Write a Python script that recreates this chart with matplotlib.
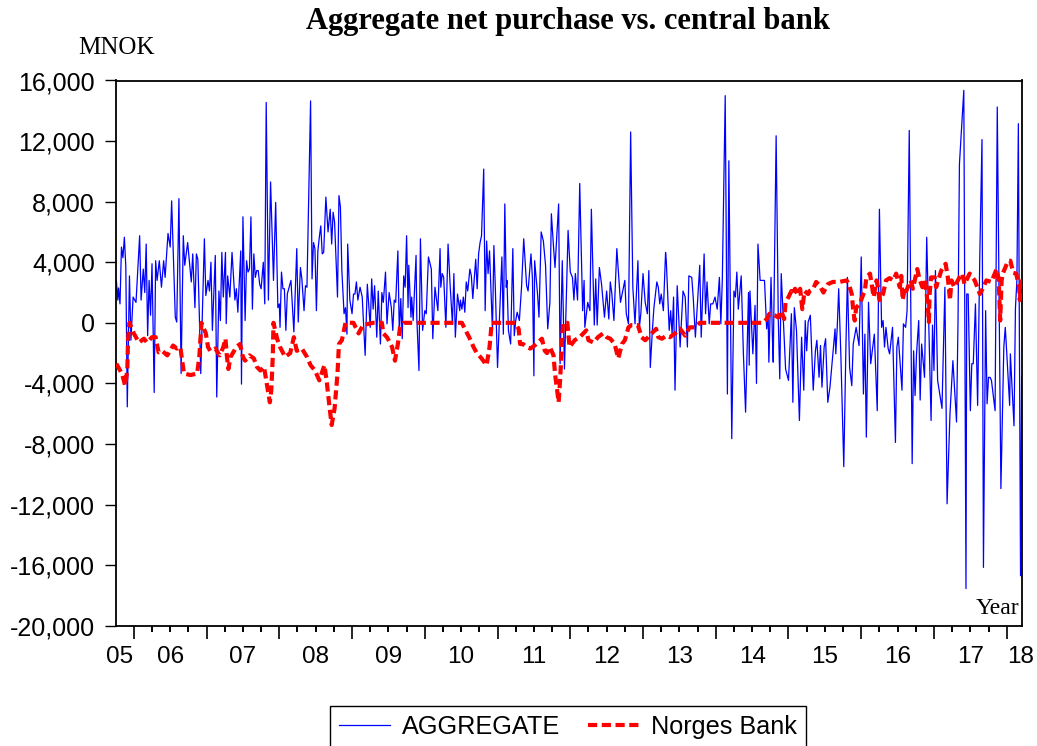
import numpy as np
import matplotlib
matplotlib.use('Agg')
import matplotlib.pyplot as plt
from matplotlib.ticker import FuncFormatter, MultipleLocator, FixedLocator

# --- data (decimal year, MNOK) ---
agg_dates = [
    2005.76, 2005.78, 2005.79, 2005.81, 2005.83, 2005.85, 2005.87, 2005.89, 2005.91, 2005.94,
    2005.96, 2005.99, 2006.03, 2006.08, 2006.10, 2006.13, 2006.15, 2006.17, 2006.19, 2006.21,
    2006.23, 2006.25, 2006.28, 2006.30, 2006.32, 2006.35, 2006.38, 2006.41, 2006.43, 2006.47,
    2006.50, 2006.52, 2006.57, 2006.59, 2006.62, 2006.65, 2006.68, 2006.70, 2006.74, 2006.79,
    2006.81, 2006.84, 2006.86, 2006.88, 2006.90, 2006.92, 2006.97, 2006.99, 2007.02, 2007.04,
    2007.06, 2007.08, 2007.12, 2007.14, 2007.17, 2007.19, 2007.21, 2007.23, 2007.26, 2007.27,
    2007.29, 2007.32, 2007.35, 2007.39, 2007.41, 2007.43, 2007.47, 2007.48, 2007.50, 2007.53,
    2007.55, 2007.57, 2007.59, 2007.61, 2007.63, 2007.65, 2007.67, 2007.69, 2007.71, 2007.73,
    2007.75, 2007.78, 2007.80, 2007.82, 2007.85, 2007.88, 2007.92, 2007.95, 2007.98, 2008.00,
    2008.01, 2008.03, 2008.05, 2008.07, 2008.09, 2008.11, 2008.16, 2008.20, 2008.24, 2008.26,
    2008.29, 2008.31, 2008.34, 2008.36, 2008.38, 2008.43, 2008.45, 2008.47, 2008.49, 2008.51,
    2008.53, 2008.55, 2008.57, 2008.59, 2008.61, 2008.64, 2008.67, 2008.70, 2008.72, 2008.74,
    2008.76, 2008.80, 2008.82, 2008.84, 2008.86, 2008.89, 2008.91, 2008.93, 2008.94, 2008.97,
    2009.00, 2009.02, 2009.04, 2009.06, 2009.08, 2009.11, 2009.14, 2009.18, 2009.21, 2009.25,
    2009.27, 2009.29, 2009.31, 2009.34, 2009.36, 2009.39, 2009.41, 2009.43, 2009.46, 2009.48,
    2009.51, 2009.54, 2009.56, 2009.58, 2009.60, 2009.63, 2009.65, 2009.67, 2009.69, 2009.71,
    2009.73, 2009.75, 2009.77, 2009.78, 2009.81, 2009.82, 2009.84, 2009.88, 2009.89, 2009.92,
    2009.94, 2009.97, 2010.00, 2010.02, 2010.05, 2010.09, 2010.11, 2010.14, 2010.18, 2010.21,
    2010.22, 2010.24, 2010.26, 2010.29, 2010.32, 2010.35, 2010.38, 2010.40, 2010.42, 2010.45,
    2010.48, 2010.49, 2010.51, 2010.53, 2010.55, 2010.57, 2010.59, 2010.62, 2010.64, 2010.66,
    2010.70, 2010.72, 2010.74, 2010.76, 2010.78, 2010.81, 2010.83, 2010.85, 2010.87, 2010.89,
    2010.93, 2010.95, 2010.97, 2011.00, 2011.06, 2011.08, 2011.10, 2011.12, 2011.13, 2011.15,
    2011.18, 2011.21, 2011.23, 2011.25, 2011.27, 2011.30, 2011.33, 2011.36, 2011.40, 2011.42,
    2011.46, 2011.48, 2011.50, 2011.51, 2011.55, 2011.57, 2011.60, 2011.63, 2011.66, 2011.69,
    2011.72, 2011.74, 2011.77, 2011.79, 2011.84, 2011.86, 2011.89, 2011.92, 2011.97, 2012.00,
    2012.03, 2012.05, 2012.07, 2012.10, 2012.13, 2012.17, 2012.19, 2012.20, 2012.24, 2012.27,
    2012.29, 2012.33, 2012.35, 2012.37, 2012.40, 2012.43, 2012.47, 2012.50, 2012.53, 2012.55,
    2012.57, 2012.60, 2012.64, 2012.69, 2012.75, 2012.77, 2012.80, 2012.83, 2012.86, 2012.88,
    2012.89, 2012.93, 2012.95, 2012.97, 2013.00, 2013.03, 2013.06, 2013.08, 2013.10, 2013.13,
    2013.15, 2013.19, 2013.21, 2013.23, 2013.25, 2013.28, 2013.31, 2013.32, 2013.36, 2013.38,
    2013.40, 2013.42, 2013.44, 2013.47, 2013.51, 2013.55, 2013.58, 2013.61, 2013.63, 2013.67,
    2013.69, 2013.72, 2013.78, 2013.80, 2013.84, 2013.86, 2013.88, 2013.91, 2013.93, 2013.96,
    2013.99, 2014.02, 2014.05, 2014.07, 2014.09, 2014.13, 2014.16, 2014.18, 2014.22, 2014.25,
    2014.27, 2014.29, 2014.31, 2014.35, 2014.38, 2014.41, 2014.45, 2014.46, 2014.47, 2014.51,
    2014.54, 2014.56, 2014.58, 2014.61, 2014.64, 2014.67, 2014.70, 2014.72, 2014.73, 2014.76,
    2014.78, 2014.79, 2014.83, 2014.86, 2014.88, 2014.90, 2014.93, 2014.96, 2015.00, 2015.04,
    2015.06, 2015.08, 2015.11, 2015.15, 2015.18, 2015.21, 2015.23, 2015.25, 2015.27, 2015.30,
    2015.34, 2015.37, 2015.39, 2015.42, 2015.44, 2015.46, 2015.49, 2015.51, 2015.54, 2015.57,
    2015.64, 2015.65, 2015.67, 2015.69, 2015.72, 2015.76, 2015.79, 2015.81, 2015.84, 2015.87,
    2015.89, 2015.93, 2015.97, 2016.00, 2016.03, 2016.05, 2016.07, 2016.10, 2016.13, 2016.18,
    2016.22, 2016.25, 2016.28, 2016.30, 2016.32, 2016.34, 2016.37, 2016.39, 2016.43, 2016.47,
    2016.49, 2016.51, 2016.56, 2016.58, 2016.61, 2016.63, 2016.66, 2016.70, 2016.72, 2016.74,
    2016.76, 2016.79, 2016.81, 2016.83, 2016.87, 2016.90, 2016.96, 2016.98, 2017.00, 2017.02,
    2017.05, 2017.11, 2017.15, 2017.18, 2017.22, 2017.26, 2017.31, 2017.33, 2017.35, 2017.41,
    2017.44, 2017.45, 2017.47, 2017.50, 2017.52, 2017.54, 2017.57, 2017.60, 2017.63, 2017.66,
    2017.68, 2017.71, 2017.73, 2017.75, 2017.77, 2017.79, 2017.84, 2017.87, 2017.92, 2017.96,
    2017.98, 2018.00, 2018.04, 2018.05, 2018.10, 2018.12, 2018.14, 2018.16, 2018.19, 2018.205,
]
agg_values = [
    2800, 1500, 2300, 1250, 5000, 4300, 5650, 3700, -5550, 3100,
    -1150, 1700, 1350, 5750, 1500, 3550, 2000, 5200, -850, 2800,
    500, 3900, -4600, 4100, 2800, 4100, 2350, 4100, 3000, 5900,
    5000, 8050, 370, 50, 8200, -3350, 5750, 3800, 5300, 2700,
    4550, 1000, 4550, 4200, 600, -3350, 5550, 1800, 2800, 2100,
    4000, -500, 4450, -4900, 2100, 150, 4650, 1700, 4650, -50,
    3100, 1700, 4650, 1500, 2250, 700, 4750, -4050, 7000, 150,
    4100, 3350, 3550, 7000, 900, 4550, 3000, 3450, 3450, 2550,
    2250, 4000, 1250, 14550, 1500, 9300, 2800, 7950, 1000, 1250,
    -300, 3350, 2250, 2250, -500, 1900, 2800, -600, 4900, 50,
    3650, 2900, 800, 2450, 2350, 14650, 2900, 5300, 4900, 800,
    4750, 5650, 6400, 4550, 4650, 8300, 6000, 7500, 5200, 7300,
    6650, 1700, 8400, 7650, 3450, 600, 1000, -750, 5200, 1500,
    600, 1900, 1900, 2700, 1500, 2350, 1700, -2150, 2550, -300,
    2900, 900, 2450, -950, 2100, -1400, 2000, 1350, 3350, -70,
    2000, 1000, -500, 1500, 1350, 4750, -750, 1600, -1050, 3100,
    2350, 5750, 1000, 3800, 370, 1700, 150, 4450, 370, -3150,
    5550, -500, 800, 600, 4350, 3550, -1050, 2350, 800, 4900,
    2350, 3250, 3000, -300, 5200, 2350, -70, 3250, -950, 1900,
    800, 1500, 900, 1700, 700, 2700, 2100, 3550, 3100, 1600,
    4200, 2250, 4550, 5300, 5750, 10150, 800, 5400, 3250, 4750,
    -500, 5100, 2250, -2950, 4350, -750, 7850, 2350, 2800, -500,
    -1400, 4900, -850, 150, 700, 150, 2350, 5550, 2450, 2100,
    4550, 2900, -3500, 4100, 1900, 370, 6000, 5400, 3800, -400,
    1350, 7200, 5000, 3650, 7850, -2700, 4100, -3050, 6100, 3350,
    3000, 1500, 3250, 1500, 9200, 800, 2800, -300, 1350, 800,
    7500, -150, 2900, -150, 3650, 2550, 370, 2100, 250, 2700,
    2000, 150, 4900, 1350, 2800, 600, -70, 12600, 2350, 800,
    -70, 4100, -300, 600, 3250, 1350, 600, 3450, -2950, -400,
    1000, 2700, 2350, 1250, 1900, 800, 4650, 4100, -500, 800,
    -750, 1700, -4450, 2450, -1600, 2100, 1700, -1600, 3100, 3000,
    1700, -950, 3800, -950, 4550, 600, 2700, -70, 1250, 1250,
    1700, 900, 3000, -70, 2800, 15000, -4700, 10700, -7650, 2100,
    1700, 3350, 900, 3100, -2050, -5900, 2000, -2800, 2100, -2050,
    1150, -4000, 5200, 2800, 2800, 2800, -400, 600, -2600, 3000,
    -1150, -2600, 12350, 150, -3700, 3250, 50, -3050, -3800, 600,
    -5250, 1000, -500, -6450, -950, -4450, 150, -1850, 50, 500,
    -4450, -1850, -1150, -3600, -1500, -4250, -1600, -1050, -5250, -4250,
    -400, -2050, -300, 2250, -2150, -9500, -1400, 3000, -2950, -4150,
    -1400, -300, -1500, 4350, -4700, -750, -7550, 1350, -2700, -750,
    -5800, 7500, -300, 150, -1600, -300, -1700, -2050, -300, -7900,
    -1600, -950, -4450, -70, -300, 800, 12700, -9300, -1850, -4800,
    -2050, 150, -5100, -1400, -3600, 5650, -6450, -150, -3150, 3450,
    -3800, -5650, 2350, -11950, -6000, -2500, -6550, -70, 10500, 15350,
    -17550, 1900, 1900, -5800, -2700, -2700, 1250, -5450, 4450, 12100,
    -16150, 800, -5350, -3600, -3600, -3800, -5800, 14250, -10950, -1600,
    -300, -1950, -5450, -2050, -6800, 1000, 2800, 13150, -16700, -3600,
]

nb_dates = [
    2005.76, 2005.84, 2005.88, 2005.91, 2005.92, 2005.94, 2006.00, 2006.07, 2006.14, 2006.18,
    2006.25, 2006.30, 2006.34, 2006.39, 2006.46, 2006.54, 2006.59, 2006.64, 2006.66, 2006.69,
    2006.78, 2006.87, 2006.90, 2006.93, 2006.99, 2007.02, 2007.05, 2007.12, 2007.18, 2007.23,
    2007.26, 2007.28, 2007.30, 2007.33, 2007.41, 2007.46, 2007.50, 2007.53, 2007.59, 2007.65,
    2007.69, 2007.74, 2007.79, 2007.82, 2007.87, 2007.89, 2007.91, 2007.92, 2007.97, 2008.01,
    2008.08, 2008.15, 2008.20, 2008.24, 2008.31, 2008.38, 2008.43, 2008.49, 2008.55, 2008.62,
    2008.65, 2008.69, 2008.72, 2008.76, 2008.80, 2008.82, 2008.86, 2008.91, 2009.02, 2009.09,
    2009.15, 2009.29, 2009.41, 2009.43, 2009.48, 2009.52, 2009.55, 2009.59, 2009.63, 2009.66,
    2009.71, 2010.51, 2010.55, 2010.61, 2010.67, 2010.71, 2010.78, 2010.85, 2010.89, 2010.92,
    2011.24, 2011.29, 2011.31, 2011.35, 2011.40, 2011.45, 2011.51, 2011.61, 2011.65, 2011.68,
    2011.72, 2011.77, 2011.79, 2011.84, 2011.86, 2011.88, 2011.90, 2011.96, 2011.98, 2011.99,
    2012.06, 2012.13, 2012.22, 2012.25, 2012.32, 2012.38, 2012.45, 2012.50, 2012.55, 2012.61,
    2012.66, 2012.71, 2012.75, 2012.80, 2012.84, 2012.93, 2012.98, 2013.03, 2013.07, 2013.12,
    2013.18, 2013.21, 2013.26, 2013.32, 2013.37, 2013.44, 2013.51, 2013.58, 2013.64, 2013.71,
    2013.78, 2014.65, 2014.70, 2014.74, 2014.81, 2014.86, 2014.90, 2014.94, 2014.96, 2015.00,
    2015.04, 2015.06, 2015.09, 2015.12, 2015.16, 2015.19, 2015.22, 2015.27, 2015.29, 2015.34,
    2015.38, 2015.43, 2015.48, 2015.54, 2015.61, 2015.70, 2015.80, 2015.83, 2015.87, 2015.89,
    2015.91, 2015.93, 2015.98, 2016.03, 2016.05, 2016.07, 2016.12, 2016.15, 2016.17, 2016.21,
    2016.23, 2016.25, 2016.30, 2016.34, 2016.39, 2016.44, 2016.48, 2016.53, 2016.55, 2016.57,
    2016.60, 2016.62, 2016.64, 2016.68, 2016.71, 2016.77, 2016.80, 2016.84, 2016.87, 2016.90,
    2016.92, 2016.93, 2016.94, 2016.96, 2017.01, 2017.03, 2017.10, 2017.16, 2017.19, 2017.22,
    2017.24, 2017.28, 2017.35, 2017.39, 2017.42, 2017.49, 2017.56, 2017.63, 2017.67, 2017.72,
    2017.79, 2017.86, 2017.89, 2017.90, 2017.91, 2017.93, 2017.95, 2018.02, 2018.05, 2018.09,
    2018.13, 2018.17, 2018.18, 2018.205,
]
nb_values = [
    -2700, -3400, -4150, -3150, -1150, 0, -700, -1300, -1050, -1300,
    -950, -950, -1950, -1850, -2150, -1500, -1700, -1600, -2350, -3350,
    -3450, -3350, -2250, 0, -700, -1600, -1850, -1700, -2150, -1600,
    -1050, -2250, -3050, -2250, -1600, -1400, -2250, -2500, -2150, -2350,
    -2900, -3150, -2900, -3800, -5250, -4450, -2250, 0, -1050, -1600,
    -2250, -2000, -950, -1850, -1700, -2250, -2800, -3150, -3800, -2800,
    -3800, -5550, -6750, -5650, -3350, -1400, -1150, 0, 0, -700,
    -150, 0, 0, -700, -950, -1300, -1600, -2500, -1400, -300,
    0, 0, -400, -950, -1600, -1950, -2350, -2800, -1600, 0,
    0, -400, -1400, -1400, -1600, -1700, -1500, -1050, -1850, -2000,
    -1600, -2150, -3350, -5250, -3800, -1850, 0, 0, -1050, -1600,
    -1150, -950, -500, -1150, -1300, -950, -700, -950, -1050, -1400,
    -2350, -1400, -1150, -300, -150, -150, -950, -1150, -950, -700,
    -400, -950, -1050, -850, -950, -700, -400, -850, -300, -300,
    0, 0, 250, 600, 500, 350, 800, 250, 1350, 1700,
    2100, 1900, 2250, 1900, 2250, 900, 2100, 1900, 2100, 2250,
    2700, 2450, 2000, 2550, 2700, 2700, 2800, 2550, 1900, 800,
    150, 1000, 1250, 1900, 2100, 3000, 3250, 2350, 1700, 2800,
    2350, 1500, 1900, 2800, 2950, 2800, 3250, 2350, 3100, 1500,
    2350, 2100, 2350, 2800, 2250, 3550, 2900, 2350, 2800, 1900,
    800, 50, 1900, 3000, 3000, 2350, 3450, 3900, 3000, 1500,
    2800, 2350, 3000, 3250, 2550, 3250, 2800, 1900, 2250, 2800,
    2700, 3550, 2800, 1500, 150, 2800, 3300, 4100, 4100, 3300,
    3250, 2350, 1500, 3100,
]

year_labels = ['05', '06', '07', '08', '09', '10', '11', '12', '13', '14', '15', '16', '17', '18']
label_pos = [2005.81] + [y + 0.5 for y in range(2006, 2018)] + [2018.19]
year_ticks = list(range(2006, 2019))
quarter_ticks = [y + q for y in range(2006, 2018) for q in (0.25, 0.5, 0.75)]

plt.rcParams['font.family'] = ['Liberation Sans', 'DejaVu Sans']

fig = plt.figure(figsize=(10.37, 7.46), dpi=100)
ax = fig.add_axes([116 / 1037, 120.3 / 746, 906 / 1037, 545.2 / 746])

ax.plot(agg_dates, agg_values, color='#0000ff', lw=0.9, label='AGGREGATE', zorder=2)
ax.plot(nb_dates, nb_values, color='#ff0000', lw=3.0, ls=(0, (2.2, 1.1)),
        label='Norges Bank', zorder=3)

ax.set_xlim(2005.755, 2018.21)
ax.set_ylim(-20000, 16000)
ax.yaxis.set_major_locator(MultipleLocator(4000))
ax.yaxis.set_major_formatter(FuncFormatter(lambda v, p: f'{v:,.0f}'))

# year boundaries long, quarters short
ax.set_xticks(year_ticks)
ax.set_xticks(quarter_ticks, minor=True)
ax.tick_params(axis='x', which='major', length=9, width=1.2, direction='out', labelbottom=False)
ax.tick_params(axis='x', which='minor', length=4.5, width=1.2, direction='out', bottom=True)
ax.tick_params(axis='y', length=8, width=1, direction='out', labelsize=18, pad=7)
# make sure the short quarter marks show below the frame
ax.vlines(quarter_ticks, -0.011, 0, transform=ax.get_xaxis_transform(),
          colors='black', lw=1.2, clip_on=False, zorder=5)

# year labels centred in each year
for pos, lab in zip(label_pos, year_labels):
    ax.text(pos, -0.038, lab, transform=ax.get_xaxis_transform(),
            ha='center', va='top', fontsize=17.5)

for s in ax.spines.values():
    s.set_linewidth(1.3)
    s.set_color('black')

fig.text(0.548, 0.971, 'Aggregate net purchase vs. central bank', ha='center', va='center',
         fontsize=22, fontweight='bold', family='Liberation Serif')
fig.text(0.1125, 0.936, 'MNOK', ha='center', va='center', fontsize=18, family='Liberation Serif')
ax.text(0.997, 0.012, 'Year', transform=ax.transAxes, ha='right', va='bottom',
        fontsize=17, family='Liberation Serif')

leg = fig.legend(loc='upper center', bbox_to_anchor=(0.548, 0.054), ncol=2, frameon=True,
                 fancybox=False, edgecolor='black', framealpha=1, fontsize=18.2,
                 handlelength=2.0, handletextpad=0.5, columnspacing=1.1,
                 borderpad=0.35, borderaxespad=0)
leg.get_frame().set_linewidth(1.0)

fig.savefig('out.png', dpi=100)
